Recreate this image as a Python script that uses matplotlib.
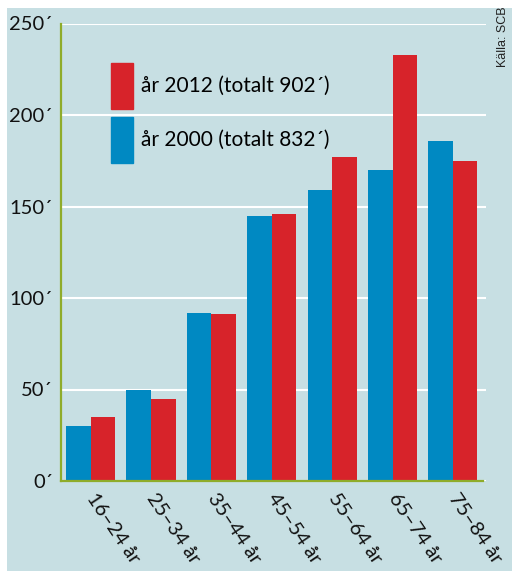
import matplotlib
matplotlib.use('Agg')
import matplotlib.pyplot as plt
from matplotlib.patches import Patch, Rectangle
import numpy as np

plt.rcParams['font.family'] = ['Lato', 'DejaVu Sans']

# age groups and values (thousands)
groups = ['16–24 år', '25–34 år', '35–44 år', '45–54 år',
          '55–64 år', '65–74 år', '75–84 år']
year2000 = [30, 50, 92, 145, 159, 170, 186]
year2012 = [35, 45, 91, 146, 177, 233, 175]
yticks = [0, 50, 100, 150, 200, 250]
ytick_labels = ['0´', '50´', '100´', '150´', '200´', '250´']
label_2012 = 'år 2012 (totalt 902´)'
label_2000 = 'år 2000 (totalt 832´)'
source = 'Källa: SCB'

BLUE = '#0089c2'
RED = '#d7232a'
PANEL = '#c7dfe3'
GREEN = '#8fac2a'

W, H = 512, 571
fig = plt.figure(figsize=(W / 100, H / 100), dpi=100)
fig.patch.set_facecolor('white')
fig.patches.append(Rectangle((7 / W, 0), 1 - 7 / W, 1 - 8 / H,
                             transform=fig.transFigure, facecolor=PANEL,
                             edgecolor='none', zorder=-10))

ax = fig.add_axes([61 / W, 1 - 481 / H, (486 - 61) / W, (481 - 23.5) / H])
ax.set_facecolor('none')

x = np.arange(len(groups))
w = 0.407
ax.bar(x - w / 2, year2000, w, color=BLUE, zorder=3)
ax.bar(x + w / 2, year2012, w, color=RED, zorder=3)

ax.set_xlim(-0.49, 6.548)
ax.set_ylim(0, 250)
ax.set_yticks(yticks)
ax.set_yticklabels(ytick_labels, fontsize=14.5, color='#111111')
ax.yaxis.grid(True, color='white', lw=1.5)
ax.set_axisbelow(True)
ax.tick_params(axis='both', length=0)
ax.tick_params(axis='y', pad=6)

ax.set_xticks(x)
ax.set_xticklabels(groups, fontsize=14.5, color='#111111', rotation=-56,
                   ha='left', va='center', rotation_mode='anchor')
ax.tick_params(axis='x', pad=10)

for s in ['top', 'right']:
    ax.spines[s].set_visible(False)
for s in ['left', 'bottom']:
    ax.spines[s].set_color(GREEN)
    ax.spines[s].set_linewidth(1.6)
ax.spines['bottom'].set_bounds(-0.49, 6.498)
ax.spines['bottom'].set_zorder(4)

# legend: patch 22x46 px, rows 54 px apart
fs = 15 * 100 / 72
hh = (46 / fs - 0.245) / 0.65
handles = [Patch(color=RED), Patch(color=BLUE)]
fig.legend(handles, [label_2012, label_2000], loc='upper left',
           bbox_to_anchor=(111 / W, 1 - 63 / H), bbox_transform=fig.transFigure,
           frameon=False, fontsize=15, borderpad=0, borderaxespad=0,
           handlelength=22 / fs, handleheight=hh,
           labelspacing=8 / fs, handletextpad=8 / fs)

fig.text(503.5 / W, 1 - 37 / H, source, rotation=90, ha='center', va='center',
         fontsize=9, family=['Liberation Sans', 'DejaVu Sans'], color='#222222')

fig.savefig('out.png', dpi=100)
